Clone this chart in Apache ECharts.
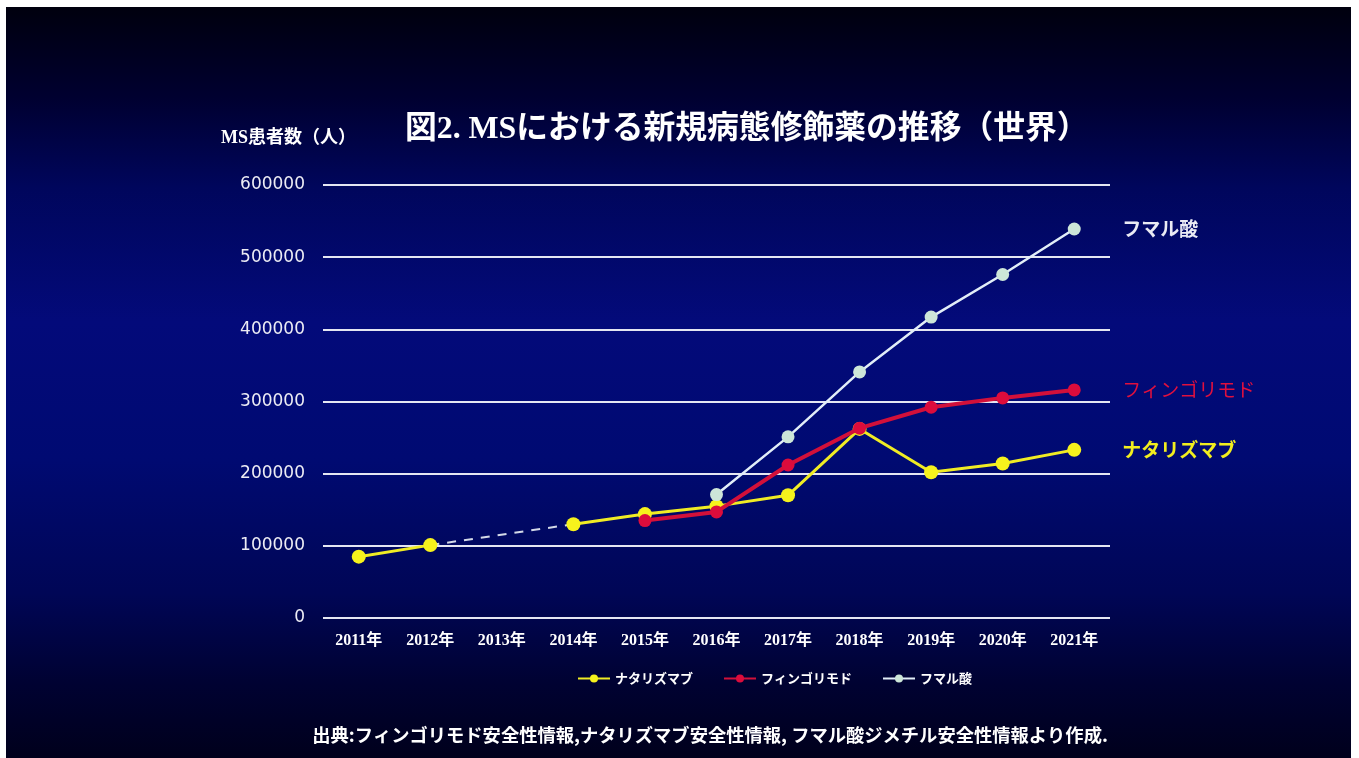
<!DOCTYPE html>
<html>
<head>
<meta charset="utf-8">
<script src="https://cdn.jsdelivr.net/npm/echarts@6/dist/echarts.min.js"></script>
<style>
  html, body { margin: 0; padding: 0; background: #ffffff; }
  #panel {
    position: absolute; left: 6px; top: 7px; width: 1345px; height: 751px;
    background: linear-gradient(to bottom,
      #00000e 0%, #000030 12%, #00065c 24%, #030a7a 42%,
      #000a72 60%, #000656 78%, #000232 90%, #00001c 100%);
  }
  #chart { position: absolute; left: 0; top: 0; width: 1359px; height: 758px; }
</style>
</head>
<body>
<div id="panel"></div>
<div id="chart"></div>
<script>
// Years on the x axis
const years = ['2011年', '2012年', '2013年', '2014年', '2015年', '2016年',
               '2017年', '2018年', '2019年', '2020年', '2021年'];

// MS patients treated with each disease-modifying drug (worldwide)
const natalizumab = [85000, 101000, null, 130000, 144000, 155000, 170000, 262000, 202000, 214000, 233000];
const fingolimod  = [null, null, null, null, 135000, 147000, 212000, 263000, 292000, 305000, 316000];
const fumaricAcid = [null, null, null, null, null, 171000, 251000, 341000, 417000, 476000, 539000];

const seriesNames = ['ナタリズマブ', 'フィンゴリモド', 'フマル酸'];
const yTicks = [0, 100000, 200000, 300000, 400000, 500000, 600000];

const titleText = '図2. MSにおける新規病態修飾薬の推移（世界）';
const yAxisTitle = 'MS患者数（人）';
const sourceText = '出典:フィンゴリモド安全性情報,ナタリズマブ安全性情報, フマル酸ジメチル安全性情報より作成.';

// Dashed bridge across the missing year: keep only the points next to each gap
const bridge = natalizumab.map((v, i) => {
  if (v === null) return null;
  const prevGap = i > 0 && natalizumab[i - 1] === null;
  const nextGap = i < natalizumab.length - 1 && natalizumab[i + 1] === null;
  return (prevGap || nextGap) ? v : null;
});

const cjk = '"Noto Sans CJK JP", sans-serif';

const chart = echarts.init(document.getElementById('chart'), null, { renderer: 'canvas' });

function endLabel(color, weight) {
  return {
    show: true,
    formatter: '{a}',
    distance: 48,
    color: color,
    fontSize: 19,
    fontWeight: weight,
    fontFamily: cjk
  };
}

chart.setOption({
  backgroundColor: 'transparent',
  animation: false,
  graphic: [
    {
      type: 'text',
      style: {
        text: titleText, x: 405, y: 130,
        textVerticalAlign: 'middle', textAlign: 'left',
        fill: '#ffffff',
        font: 'bold 31.8px "Liberation Serif", "Noto Sans CJK JP", serif'
      }
    },
    {
      type: 'text',
      style: {
        text: yAxisTitle, x: 221, y: 138,
        textVerticalAlign: 'middle', textAlign: 'left',
        fill: '#ffffff',
        font: 'bold 18px "Liberation Serif", "Noto Sans CJK JP", serif'
      }
    },
    {
      type: 'text',
      style: {
        text: sourceText, x: 710, y: 735,
        textVerticalAlign: 'middle', textAlign: 'center',
        fill: '#ffffff',
        font: 'bold 18.3px "Noto Sans CJK JP", sans-serif'
      }
    }
  ],
  grid: { left: 323, right: 249, top: 185, bottom: 140, containLabel: false },
  legend: {
    data: seriesNames,
    left: 572,
    top: 667,
    itemWidth: 32,
    itemHeight: 10,
    itemGap: 30,
    textStyle: { color: '#ffffff', fontSize: 13, fontFamily: cjk, fontWeight: 'bold' }
  },
  xAxis: {
    type: 'category',
    data: years,
    boundaryGap: true,
    axisLine: { show: false },
    axisTick: { show: false },
    axisLabel: {
      color: '#ffffff', fontSize: 16, fontWeight: 'bold', margin: 15,
      fontFamily: '"Liberation Serif", "Noto Sans CJK JP", serif'
    },
    splitLine: { show: false }
  },
  yAxis: {
    type: 'value',
    min: yTicks[0],
    max: yTicks[yTicks.length - 1],
    interval: yTicks[1] - yTicks[0],
    axisLine: { show: false },
    axisTick: { show: false },
    axisLabel: {
      color: '#ececf4', fontSize: 17, margin: 18,
      fontFamily: '"DejaVu Sans", sans-serif',
      formatter: (v) => String(v)
    },
    splitLine: { show: true, lineStyle: { color: '#e4e6f2', width: 2 } }
  },
  series: [
    {
      name: 'bridge',
      type: 'line',
      data: bridge,
      connectNulls: true,
      showSymbol: false,
      symbol: 'none',
      silent: true,
      lineStyle: { color: '#d4dae8', width: 2, type: [9, 8] },
      z: 1
    },
    {
      name: seriesNames[0],
      type: 'line',
      data: natalizumab,
      connectNulls: false,
      symbol: 'circle',
      symbolSize: 14,
      itemStyle: { color: '#f6f21c' },
      lineStyle: { color: '#f0ec24', width: 3 },
      endLabel: endLabel('#f2ee1e', 'bold'),
      z: 2
    },
    {
      name: seriesNames[1],
      type: 'line',
      data: fingolimod,
      symbol: 'circle',
      symbolSize: 13,
      itemStyle: { color: '#dc0c3c' },
      lineStyle: { color: '#d2103a', width: 4 },
      endLabel: endLabel('#e0103e', 'normal'),
      z: 3
    },
    {
      name: seriesNames[2],
      type: 'line',
      data: fumaricAcid,
      symbol: 'circle',
      symbolSize: 13,
      itemStyle: { color: '#cde6d8' },
      lineStyle: { color: '#e2eef8', width: 2.5 },
      endLabel: endLabel('#eaeaf4', 'bold'),
      z: 4
    }
  ]
});
</script>
</body>
</html>
